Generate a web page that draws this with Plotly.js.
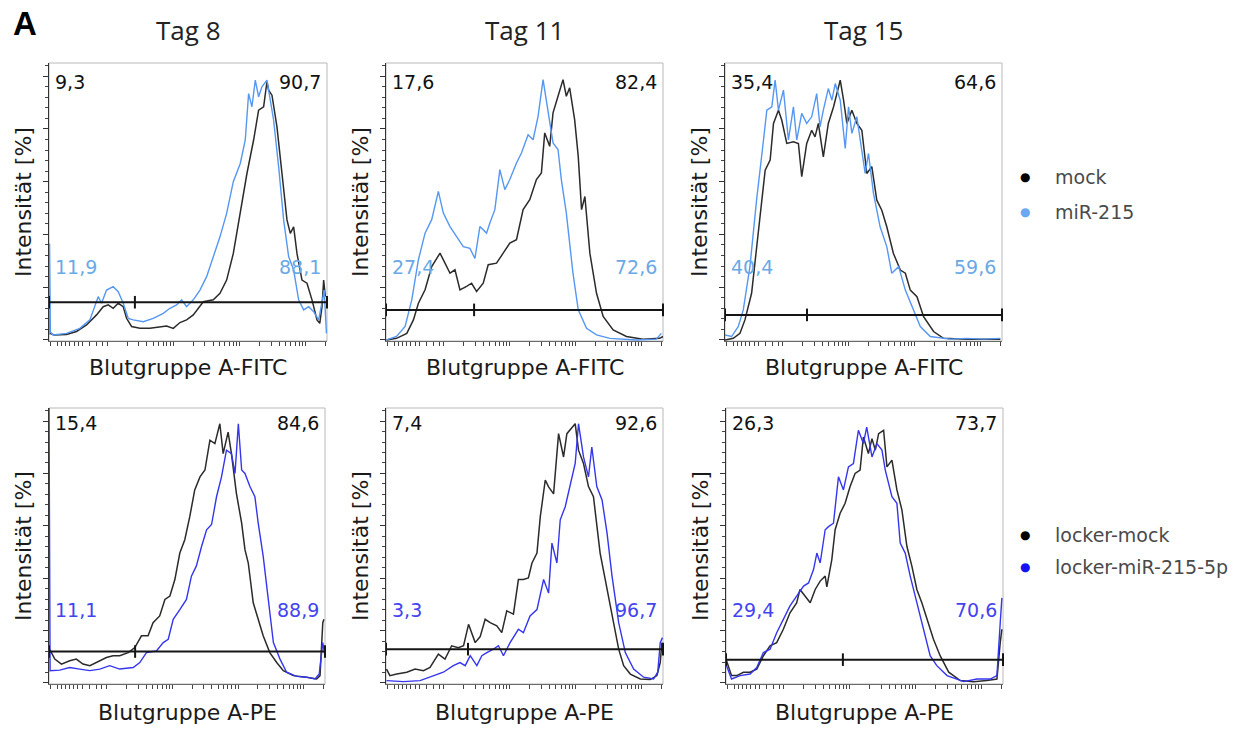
<!DOCTYPE html>
<html>
<head>
<meta charset="utf-8">
<script src="https://cdn.plot.ly/plotly-3.0.1.min.js"></script>
<style>
  html, body { margin: 0; padding: 0; background: #ffffff; }
  #chart { width: 1250px; height: 729px; }
</style>
</head>
<body>
<div id="chart"></div>
<script>
// Blood group A surface staining: histograms (% of max) on days 8, 11 and 15.
// x runs over the fluorescence scale of each panel (0–100), y is intensity in %.

const days = ['Tag 8', 'Tag 11', 'Tag 15'];
const rowChannels = ['Blutgruppe A-FITC', 'Blutgruppe A-PE'];
const rowSeriesNames = [['mock', 'miR-215'], ['locker-mock', 'locker-miR-215-5p']];

// ---- FITC row ----
const fitc8MockX = [0.2,2.0,6.3,9.9,13.5,17.1,19.5,21.3,23.1,24.9,26.7,27.9,29.7,32.7,36.3,39.9,42.3,44.7,47.1,49.5,51.9,55.5,59.1,61.5,63.9,66.3,68.8,71.2,73.6,75.4,77.2,78.4,79.0,80.2,82.0,83.8,85.6,86.8,88.0,89.2,91.0,92.8,94.6,96.4,97.4,98.2,98.8,99.4];
const fitc8MockY = [2.5,1.9,2.1,3.2,5.7,9.5,12.6,13.3,12.0,13.9,12.6,8.2,5.1,4.4,4.4,4.8,5.3,4.4,6.6,7.6,9.5,14.5,15.2,17.7,22.7,32.8,48.0,63.1,75.8,87.1,88.4,97.9,94.7,92.8,80.8,63.1,45.5,40.4,42.9,32.8,22.7,21.5,15.2,7.6,6.3,12.6,22.7,16.4];
const fitc8MirX = [0,0.2,0.5,1.4,6.3,11.1,14.7,17.7,18.9,20.7,23.1,24.9,26.7,28.5,30.3,33.9,37.5,41.1,43.5,45.9,47.7,49.5,51.9,54.3,56.7,59.1,61.5,63.9,66.3,68.8,70.6,71.8,73.0,74.2,75.4,76.6,78.4,79.6,80.8,82.6,84.4,86.2,88.0,89.8,91.6,93.4,95.2,97.0,98.2,99.0,99.8];
const fitc8MirY = [2,36.6,3,1.9,2.5,4.4,7.6,16.4,13.9,18.9,20.2,18.3,13.9,8.2,7.6,6.9,8.2,10.1,12.0,13.3,15.2,12.6,15.2,18.9,24.0,31.6,39.1,48.0,60.0,66.9,75.8,93.4,88.4,98.5,92.2,96.0,98.5,90.9,83.3,65.7,45.5,31.6,26.5,15.2,11.4,12.6,10.7,7.6,15.2,18.9,2.5];

const fitc11MockX = [0.2,3.8,7.5,9.9,11.7,14.1,16.5,19.5,21.3,23.1,24.9,26.7,29.1,30.9,32.7,35.1,36.9,39.9,42.3,44.7,47.1,49.5,51.9,54.3,56.1,57.3,59.1,60.3,62.1,63.9,65.1,66.3,68.1,69.4,70.6,71.8,73.6,76.0,78.4,82.0,86.8,92.8,98.8,100];
const fitc11MockY = [0,0.6,2.5,7.6,13.9,19.0,27.8,32.9,29.1,25.3,26.6,19.0,20.3,21.5,18.4,21.5,28.5,29.1,32.9,36.7,38.0,49.4,53.2,60.8,63.3,78.5,73.4,86.1,92.4,98.7,92.4,95.6,83.5,69.6,49.4,54.4,32.9,17.7,8.9,3.8,1.3,0.3,0.6,1.3];
const fitc11MirX = [0.2,3.8,6.9,9.3,11.7,14.1,16.5,18.9,20.7,23.1,25.5,27.9,30.3,32.1,33.9,36.3,37.5,39.3,41.1,42.9,44.7,47.1,48.9,51.3,53.1,54.9,56.7,58.5,60.3,62.1,63.3,65.1,67.5,69.4,72.4,76.0,80.8,90.4,97.6,99.4];
const fitc11MirY = [0,1.3,5.1,15.2,30.4,40.5,45.6,56.3,48.1,43.0,39.2,35.4,34.7,30.9,43.0,40.5,44.3,49.4,64.6,57.0,60.8,67.1,70.9,77.8,75.9,84.8,98.7,87.3,74.7,72.2,60.8,48.1,25.3,11.4,4.4,1.9,0.6,0,0.3,2.5];

const fitc15MockX = [0,3.0,5.4,7.2,9.6,12.0,14.5,16.3,17.5,19.3,20.5,22.3,24.7,26.5,27.7,29.5,31.3,32.5,33.7,35.5,37.3,39.2,41.6,42.8,44.0,45.8,47.6,49.4,51.2,53.0,54.8,56.6,58.4,60.8,63.3,65.1,66.9,69.3,71.7,75.3,78.9,87.3,99.4];
const fitc15MockY = [0,0.6,2.5,7.6,17.7,40.4,64.4,68.2,82.1,87.1,83.3,74.5,75.1,74.5,61.9,74.5,79.5,77.0,82.1,69.4,82.1,88.4,98.5,90.9,82.1,87.1,82.1,79.5,63.1,65.7,53.0,49.2,42.9,32.8,26.5,25.3,18.9,16.4,8.8,3.2,0.6,0.3,0.3];
const fitc15MirX = [0,2.4,4.8,6.6,9.0,11.4,13.9,15.1,16.9,18.1,19.3,21.1,22.9,24.7,25.9,27.7,29.5,31.3,33.1,34.3,35.5,37.3,38.6,39.8,41.6,43.4,44.6,45.8,47.6,48.8,50.6,51.8,53.6,56.0,58.4,60.2,62.7,65.1,68.1,70.5,74.1,81.3,87.3,93.4,99.4];
const fitc15MirY = [1.9,1.3,5.1,11.4,27.8,53.0,75.8,87.1,88.4,98.5,87.1,94.7,75.8,88.4,75.8,85.9,82.1,84.6,93.4,80.8,87.1,95.3,90.9,97.2,90.9,72.6,88.4,78.3,84.6,75.8,63.1,70.7,55.6,42.9,35.4,25.3,27.8,18.9,11.4,5.1,1.3,0.3,0.6,0.3,0.6];

// ---- PE row ----
const pe8MockX = [0.2,2.1,4.5,7.5,9.9,12.3,14.8,18.4,20.8,23.2,25.6,28.7,31.1,33.5,35.9,37.7,40.1,42.0,43.8,45.6,47.4,49.2,51.0,52.8,54.7,56.5,58.3,60.1,61.9,63.1,64.9,66.1,67.9,69.8,71.0,72.2,74.0,75.8,77.6,80.0,82.5,84.9,88.5,93.3,97.0,98.2,99.2,99.6];
const pe8MockY = [12.9,9.1,7.2,8.5,9.1,7.2,6.6,8.5,9.7,10.4,10.4,11.6,13.5,18.0,18.0,23.0,25.6,31.9,33.2,39.5,49.6,54.7,63.5,73.7,78.7,81.3,92.7,91.4,99.0,87.6,95.8,87.6,72.4,61.0,50.9,45.8,30.6,24.3,18.0,11.6,7.8,4.7,2.8,2.2,1.5,2.8,23.0,24.3];
const pe8MirX = [0,0.4,3.9,7.5,11.1,14.8,18.4,22.0,25.6,30.5,32.9,35.3,38.9,41.4,43.2,45.0,47.4,49.8,51.6,53.4,55.3,57.1,58.9,60.7,62.5,64.3,66.1,67.4,68.6,69.8,71.0,72.8,74.6,75.8,77.6,79.4,81.3,83.7,86.1,89.7,93.3,96.4,97.9,99.2,100];
const pe8MirY = [105,4.7,4.9,5.9,5.3,4.7,5.3,6.6,5.3,5.9,7.8,11.6,12.2,15.4,16.7,24.3,28.0,31.9,40.8,44.7,52.2,58.5,60.5,71.1,78.7,88.9,87.6,80.0,99.0,81.3,80.0,75.0,71.1,61.0,48.4,33.2,15.4,9.1,4.1,2.5,2.2,1.5,3.4,15.4,10.1];

const pe11MockX = [0.2,1.4,3.9,7.5,10.5,13.5,15.9,18.9,21.3,23.7,26.1,28.0,29.8,32.2,34.0,35.8,37.6,40.0,41.8,43.6,46.0,47.8,49.6,51.4,52.7,54.5,55.7,57.5,58.7,60.5,62.3,64.1,65.3,67.1,68.3,69.5,71.3,73.1,74.9,77.3,79.8,82.2,84.0,85.8,88.2,91.8,95.4,97.8,99.0,99.6];
const pe11MockY = [5.3,2.8,3.4,4.1,5.3,4.7,5.9,11.0,9.1,14.2,13.5,14.2,22.4,15.4,17.7,24.3,23.0,21.8,19.2,27.5,26.3,39.5,39.5,40.1,45.8,49.6,63.5,77.5,74.9,72.2,95.2,86.3,95.2,97.7,99.0,88.9,83.8,75.0,71.1,49.6,35.7,23.0,12.9,6.6,3.4,1.5,1.3,2.8,7.8,15.4];
const pe11MirX = [0.2,6.3,12.3,17.1,20.7,24.3,26.7,28.6,30.4,32.8,34.6,36.4,38.8,40.6,42.4,44.8,47.8,49.6,52.0,54.5,56.9,58.7,59.9,61.7,62.9,64.7,66.5,68.3,69.5,71.3,73.1,74.3,76.1,78.0,79.8,81.6,84.0,86.4,89.4,93.0,96.6,98.1,99.0,99.8];
const pe11MirY = [0.9,0.5,0.9,2.8,4.1,6.6,7.8,6.6,10.4,6.6,10.4,11.6,12.9,14.2,10.4,15.4,20.5,19.2,25.6,28.0,39.5,34.3,53.4,45.8,62.3,67.3,75.0,83.8,99.0,86.3,78.7,90.1,75.0,69.9,57.2,40.8,23.0,11.6,5.3,2.2,1.5,4.1,15.4,17.3];

const pe15MockX = [0.2,2.0,3.9,6.3,8.7,11.1,13.5,15.9,18.3,20.7,23.1,25.5,26.7,28.6,30.4,32.2,34.0,35.8,36.4,38.2,39.4,41.2,43.0,44.8,46.6,48.4,49.6,51.4,52.7,53.9,55.1,56.9,58.1,59.9,61.7,63.5,65.3,67.1,68.9,70.7,72.5,74.9,77.3,80.4,84.6,89.4,94.2,97.8,99.0,99.6];
const pe15MockY = [8.5,2.8,2.8,4.1,4.1,5.3,10.4,14.2,15.4,20.5,26.8,30.6,35.7,33.2,30.6,35.7,38.9,40.8,36.7,47.1,58.5,64.8,68.6,75.0,80.0,81.3,93.9,87.6,93.3,88.9,95.2,96.5,82.5,85.1,73.7,66.1,52.2,44.6,35.7,30.6,24.3,16.7,10.4,4.1,0.9,0.5,0.9,1.5,15.4,20.5];
const pe15MirX = [0.2,2.0,5.1,8.7,11.1,13.5,15.9,18.3,20.7,23.1,25.5,28.0,29.8,31.6,32.8,34.0,35.8,37.0,38.8,40.6,42.4,44.2,46.0,47.8,49.6,50.8,52.7,54.5,56.3,57.5,59.9,61.7,62.9,64.7,66.5,68.9,71.3,73.7,76.1,79.8,85.8,90.6,95.4,97.8,99.0,99.6];
const pe15MirY = [6.6,1.5,2.8,3.4,5.9,11.6,12.9,19.2,24.3,29.4,33.2,37.0,38.2,43.3,49.6,45.8,58.5,59.7,61.0,78.7,73.7,82.5,83.8,96.5,91.4,97.7,86.3,91.4,88.9,81.3,71.1,68.6,53.4,49.6,40.8,30.6,20.5,10.4,6.6,2.8,0.5,1.5,1.5,2.8,23.0,32.5];

// Gate (horizontal marker) per panel: level in % and the split position
const gateLevel = [14.3, 11.4, 9.5, 12.0, 12.9, 8.9];
const gateSplit = [30.9, 31.8, 29.6, 31.2, 29.6, 42.2];

// Gate percentages (left / right of the split)
const pctMock = [[9.3, 90.7], [17.6, 82.4], [35.4, 64.6], [15.4, 84.6], [7.4, 92.6], [26.3, 73.7]];
const pctTreated = [[11.9, 88.1], [27.4, 72.6], [40.4, 59.6], [11.1, 88.9], [3.3, 96.7], [29.4, 70.6]];

const panelsMock = [[fitc8MockX, fitc8MockY], [fitc11MockX, fitc11MockY], [fitc15MockX, fitc15MockY],
                    [pe8MockX, pe8MockY], [pe11MockX, pe11MockY], [pe15MockX, pe15MockY]];
const panelsTreated = [[fitc8MirX, fitc8MirY], [fitc11MirX, fitc11MirY], [fitc15MirX, fitc15MirY],
                       [pe8MirX, pe8MirY], [pe11MirX, pe11MirY], [pe15MirX, pe15MirY]];

// ---- styling ----
const W = 1250, H = 729;
const colLeft = [[49, 327], [386, 663], [725, 1002]];
const colLeftPE = [[49, 325], [386, 663], [726, 1003]];
const rowTopBottom = [[63, 341], [408, 684]];
const mockColor = '#2b2b2b';
const treatedLine = ['#5597f2', '#3535ee'];
const treatedText = ['#6aa9e6', '#4343f0'];
const legendDot = ['#6ba8f2', '#1414f0'];
const fontMain = 'DejaVu Sans, Liberation Sans, Arial, sans-serif';

// log-like fluorescence scale tick marks (biexponential look)
const xTicks = [0.4, 3, 4.5, 6, 7.5, 9, 10.5, 12, 14.7, 17.2, 19.2, 20.9];
for (let k = 0; k < 4; k++) {
  for (let m = 2; m <= 10; m++) {
    const p = 20.9 + k * 23.8 + Math.log10(m) * 23.8;
    if (p <= 100) xTicks.push(+p.toFixed(2));
  }
}

const fmt = v => v.toFixed(1).replace('.', ',');

const traces = [];
const layout = {
  width: W, height: H,
  margin: {l: 0, r: 0, t: 0, b: 0},
  paper_bgcolor: '#ffffff', plot_bgcolor: '#ffffff',
  showlegend: false,
  shapes: [], annotations: []
};

for (let i = 0; i < 6; i++) {
  const n = i + 1;
  const row = i < 3 ? 0 : 1;
  const col = i % 3;
  const xs = row === 0 ? colLeft[col] : colLeftPE[col];
  const ys = rowTopBottom[row];
  const xa = 'x' + (n === 1 ? '' : n), ya = 'y' + (n === 1 ? '' : n);
  const xk = 'xaxis' + (n === 1 ? '' : n), yk = 'yaxis' + (n === 1 ? '' : n);

  layout[xk] = {
    domain: [xs[0] / W, xs[1] / W], anchor: ya, range: [0, 100],
    showgrid: false, zeroline: false, showline: true, linecolor: '#6a6a6a', linewidth: 1,
    ticks: 'outside', ticklen: 4, tickwidth: 1, tickcolor: '#444',
    tickmode: 'array', tickvals: xTicks, showticklabels: false, fixedrange: true
  };
  layout[yk] = {
    domain: [1 - ys[1] / H, 1 - ys[0] / H], anchor: xa, range: [-0.4, 105],
    showgrid: false, zeroline: false, showline: true, linecolor: '#333', linewidth: 1.2,
    ticks: 'outside', ticklen: 5, tickwidth: 1, tickcolor: '#333',
    tickmode: 'linear', tick0: 0, dtick: 20, showticklabels: false,
    minor: {ticks: 'outside', ticklen: 3, tickwidth: 1, tickcolor: '#444', dtick: 4, tick0: 0, showgrid: false},
    fixedrange: true
  };

  // light frame around each panel
  layout.shapes.push({
    type: 'rect', xref: xa + ' domain', yref: ya + ' domain', x0: 0, x1: 1, y0: 0, y1: 1,
    line: {color: '#b9b9b9', width: 1}, layer: 'below'
  });

  const names = rowSeriesNames[row];
  traces.push({
    type: 'scatter', mode: 'lines', x: panelsMock[i][0], y: panelsMock[i][1],
    xaxis: xa, yaxis: ya, name: names[0],
    line: {color: mockColor, width: 1.5}, hoverinfo: 'x+y'
  });
  traces.push({
    type: 'scatter', mode: 'lines', x: panelsTreated[i][0], y: panelsTreated[i][1],
    xaxis: xa, yaxis: ya, name: names[1],
    line: {color: treatedLine[row], width: 1.4}, hoverinfo: 'x+y'
  });
  // gate bar with end caps and split mark
  traces.push({
    type: 'scatter', mode: 'lines+markers',
    x: [0, gateSplit[i], 100], y: [gateLevel[i], gateLevel[i], gateLevel[i]],
    xaxis: xa, yaxis: ya, name: 'Gate', cliponaxis: false,
    line: {color: '#151515', width: 2},
    marker: {symbol: 'line-ns-open', size: 9, line: {color: '#151515', width: 2}},
    hoverinfo: 'skip'
  });

  // gate percentages
  const topY = row === 0 ? 0.932 : 0.946;
  const midY = row === 0 ? 0.266 : 0.268;
  const numFont = c => ({family: fontMain, size: 19, color: c});
  layout.annotations.push(
    {xref: xa + ' domain', yref: ya + ' domain', x: 0, y: topY, xshift: 4, xanchor: 'left', yanchor: 'middle',
     text: fmt(pctMock[i][0]), showarrow: false, font: numFont('#111')},
    {xref: xa + ' domain', yref: ya + ' domain', x: 1, y: topY, xshift: -4, xanchor: 'right', yanchor: 'middle',
     text: fmt(pctMock[i][1]), showarrow: false, font: numFont('#111')},
    {xref: xa + ' domain', yref: ya + ' domain', x: 0, y: midY, xshift: 4, xanchor: 'left', yanchor: 'middle',
     text: fmt(pctTreated[i][0]), showarrow: false, font: numFont(treatedText[row])},
    {xref: xa + ' domain', yref: ya + ' domain', x: 1, y: midY, xshift: -4, xanchor: 'right', yanchor: 'middle',
     text: fmt(pctTreated[i][1]), showarrow: false, font: numFont(treatedText[row])}
  );

  // axis titles
  layout.annotations.push(
    {xref: xa + ' domain', yref: 'paper', x: 0.5, y: 1 - (row === 0 ? 367 : 712) / H,
     xanchor: 'center', yanchor: 'middle', text: rowChannels[row], showarrow: false,
     font: {family: fontMain, size: 22, color: '#1a1a1a'}},
    {xref: xa + ' domain', yref: ya + ' domain', x: 0, y: 0.5, xshift: -26,
     xanchor: 'center', yanchor: 'middle', textangle: -90, text: 'Intensität [%]', showarrow: false,
     font: {family: fontMain, size: 22, color: '#1a1a1a'}}
  );

  if (row === 0) {
    layout.annotations.push({
      xref: xa + ' domain', yref: 'paper', x: 0.5, y: 1 - 30 / H, xanchor: 'center', yanchor: 'middle',
      text: days[col], showarrow: false,
      font: {family: 'Open Sans, Noto Sans, sans-serif', size: 26, color: '#222'}
    });
  }
}

// panel letter
layout.annotations.push({
  xref: 'paper', yref: 'paper', x: 25 / W, y: 1 - 24 / H, xanchor: 'center', yanchor: 'middle',
  text: '<b>A</b>', showarrow: false,
  font: {family: 'Liberation Sans, Arial, sans-serif', size: 33, color: '#000'}
});

// series keys for both rows
const keyRows = [[177, 212], [535, 567]];
for (let r = 0; r < 2; r++) {
  for (let k = 0; k < 2; k++) {
    const yPos = 1 - keyRows[r][k] / H;
    layout.annotations.push(
      {xref: 'paper', yref: 'paper', x: 1025 / W, y: yPos, xanchor: 'center', yanchor: 'middle',
       text: '●', showarrow: false,
       font: {family: fontMain, size: 12, color: k === 0 ? '#000' : legendDot[r]}},
      {xref: 'paper', yref: 'paper', x: 1053 / W, y: yPos, xanchor: 'left', yanchor: 'middle',
       text: rowSeriesNames[r][k], showarrow: false,
       font: {family: fontMain, size: 19, color: '#4a4a4a'}}
    );
  }
}

Plotly.newPlot('chart', traces, layout, {displayModeBar: false, staticPlot: true});
</script>
</body>
</html>
